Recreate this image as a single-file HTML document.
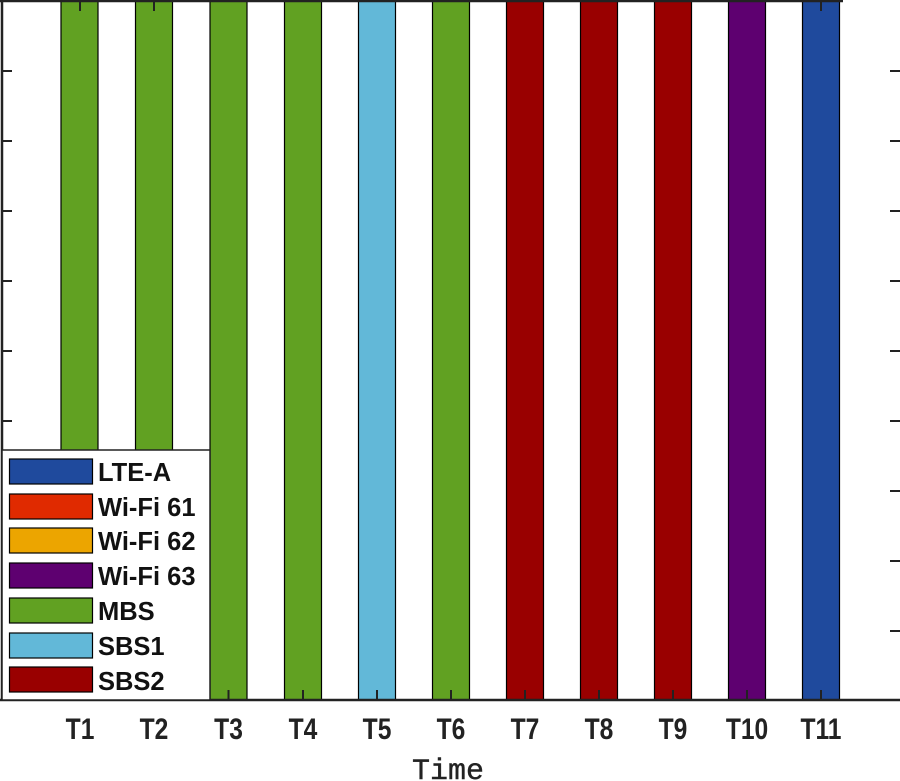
<!DOCTYPE html>
<html><head><style>body{margin:0;background:#fff}svg{display:block}</style></head><body>
<svg width="900" height="781" xmlns="http://www.w3.org/2000/svg">
<rect width="900" height="781" fill="#fff"/>
<g stroke="#000" stroke-width="1.2">
<rect x="61" y="0" width="37" height="700" fill="#61a122"/>
<rect x="135.5" y="0" width="37" height="700" fill="#61a122"/>
<rect x="210" y="0" width="37" height="700" fill="#61a122"/>
<rect x="284.5" y="0" width="37" height="700" fill="#61a122"/>
<rect x="358.5" y="0" width="37" height="700" fill="#62b8d8"/>
<rect x="432.5" y="0" width="37" height="700" fill="#61a122"/>
<rect x="506.5" y="0" width="37" height="700" fill="#990000"/>
<rect x="580.5" y="0" width="37" height="700" fill="#990000"/>
<rect x="654.5" y="0" width="37" height="700" fill="#990000"/>
<rect x="728.5" y="0" width="37" height="700" fill="#5e0070"/>
<rect x="802.5" y="0" width="37" height="700" fill="#1f4a9d"/>
</g>
<g stroke="#222" stroke-width="2.5" fill="none">
<line x1="0" y1="1" x2="843" y2="1"/>
<line x1="2" y1="0" x2="2" y2="700"/>
<line x1="0" y1="700" x2="900" y2="700"/>
</g>
<g stroke="#222" stroke-width="2">
<path d="M2 71h10M2 141h10M2 211h10M2 281h10M2 351h10M2 421h10"/>
<path d="M900 71h-10M900 141h-10M900 211h-10M900 281h-10M900 351h-10M900 421h-10M900 491h-10M900 561h-10M900 631h-10"/>
<path d="M80 0v11M154 0v11M228.5 700v-10M303 700v-10M377 700v-10M451 700v-10M525 700v-10M599 700v-10M673 700v-10M747 700v-10M821 700v-10M821 0v11"/>
</g>
<rect x="2" y="450" width="208" height="250" fill="#fff" stroke="#222" stroke-width="1.5"/>
<g stroke="#000" stroke-width="1.2">
<rect x="9.5" y="459" width="83" height="25" fill="#1f4a9d"/>
<rect x="9.5" y="494" width="83" height="25" fill="#e02a00"/>
<rect x="9.5" y="528" width="83" height="25" fill="#eca500"/>
<rect x="9.5" y="563" width="83" height="25" fill="#5e0070"/>
<rect x="9.5" y="598" width="83" height="25" fill="#61a122"/>
<rect x="9.5" y="633" width="83" height="25" fill="#62b8d8"/>
<rect x="9.5" y="667" width="83" height="25" fill="#990000"/>
</g>
<g font-family="Liberation Sans, sans-serif" font-weight="bold" font-size="25.5" fill="#111">
<text x="98" y="481">LTE-A</text>
<text x="98" y="516">Wi-Fi 61</text>
<text x="98" y="550">Wi-Fi 62</text>
<text x="98" y="585">Wi-Fi 63</text>
<text x="98" y="620">MBS</text>
<text x="98" y="655">SBS1</text>
<text x="98" y="690">SBS2</text>
</g>
<g font-family="Liberation Sans, sans-serif" font-weight="bold" font-size="30" fill="#222" text-anchor="middle" transform="scale(0.82,1)">
<text x="97.6" y="739">T1</text><text x="187.8" y="739">T2</text><text x="278.7" y="739">T3</text>
<text x="369.5" y="739">T4</text><text x="459.8" y="739">T5</text><text x="550" y="739">T6</text>
<text x="640.2" y="739">T7</text><text x="730.5" y="739">T8</text><text x="820.7" y="739">T9</text>
<text x="911" y="739">T10</text><text x="1001.2" y="739">T11</text>
</g>
<text x="448" y="779" font-family="Liberation Mono, monospace" font-size="30" fill="#222" stroke="#222" stroke-width="0.4" text-anchor="middle">Time</text>
</svg>
</body></html>
